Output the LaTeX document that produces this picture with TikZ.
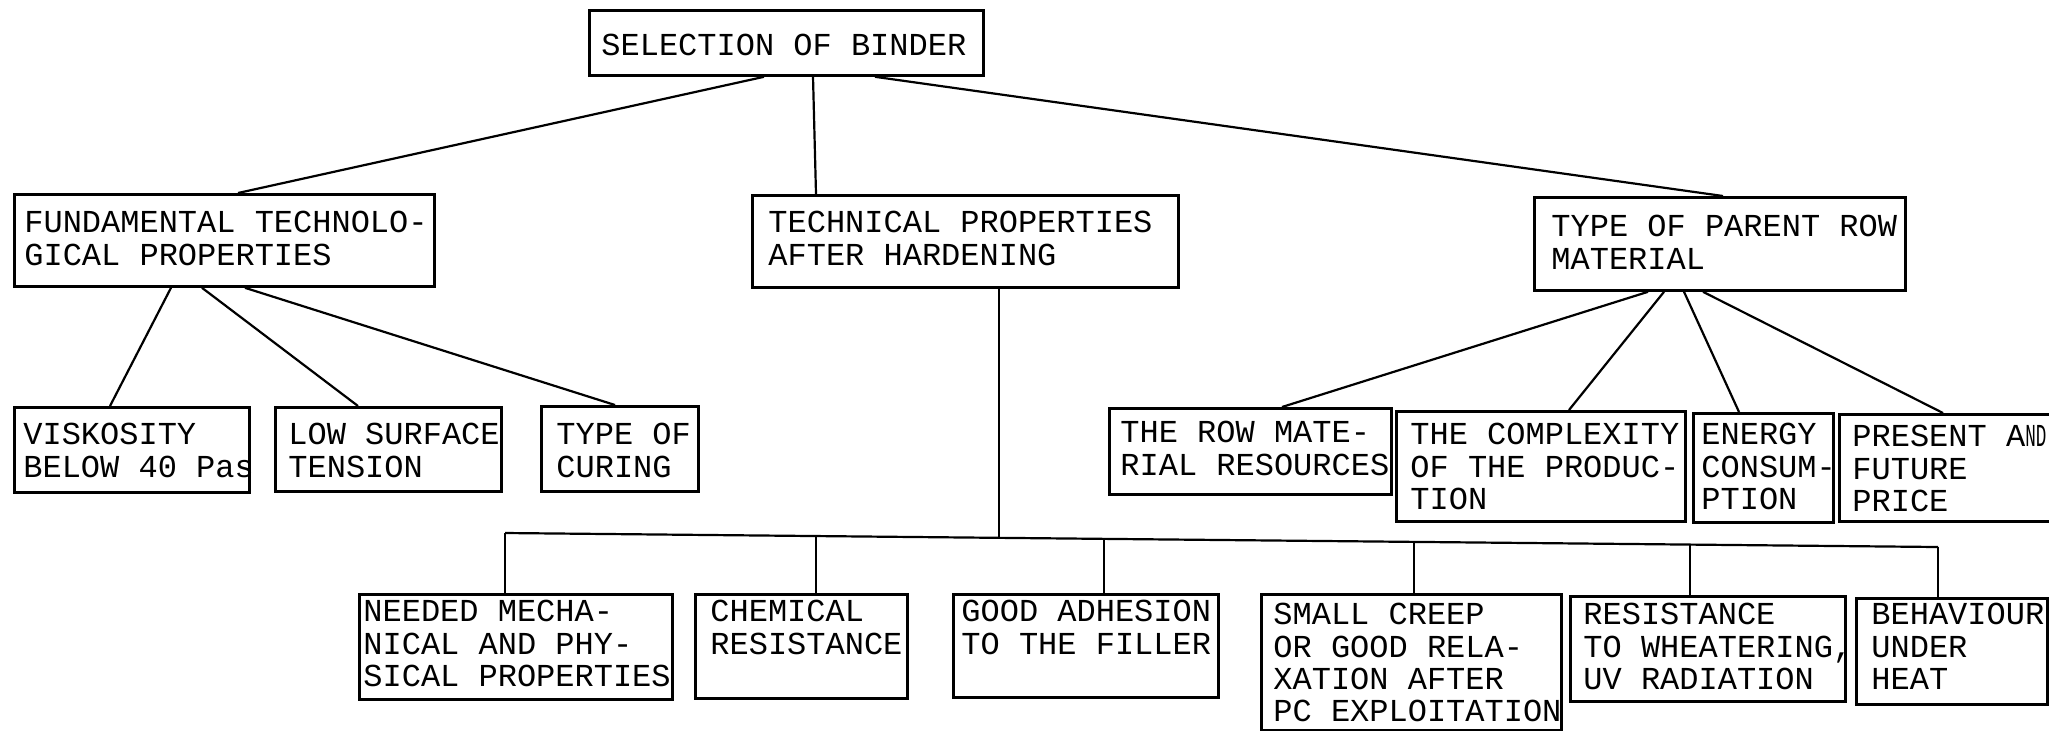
\documentclass[tikz,border=0pt]{standalone}
\usepackage{fontspec}
\setmonofont{Liberation Mono}
\usetikzlibrary{calc}
\newdimen\px \px=0.5pt
% #1 width px, #2 height px, #3 left pad px, #4 top pad px (cap top), #5 lines
\newcommand\bt[5]{\parbox[c][#2\px][t]{#1\px}{\vspace*{\dimexpr#4\px-2.2pt\relax}\hspace*{#3\px}\begin{tabular}[t]{@{}l@{}}#5\end{tabular}}}
\tikzset{
  bx/.style={draw, line width=1.4pt, inner sep=0pt, anchor=north west,
    font=\fontsize{16}{16.2}\selectfont\ttfamily},
  ln/.style={line width=1.1pt}
}
\begin{document}
\begin{tikzpicture}[x=0.5pt,y=-0.5pt]
\useasboundingbox (0,0) rectangle (2049,730);
\fill[white] (0,0) rectangle (2049,730);
\clip (0,0) rectangle (2049,730);

% top
\node[bx] (sel) at (588,9) {\bt{394}{65}{12}{27}{SELECTION OF BINDER}};

% second level
\node[bx] (fund) at (13,193) {\bt{420}{92}{10}{20}{FUNDAMENTAL TECHNOLO-\\GICAL PROPERTIES}};
\node[bx] (tech) at (751,194) {\bt{426}{92}{16}{19}{TECHNICAL PROPERTIES\\AFTER HARDENING}};
\node[bx] (type) at (1533,196) {\bt{371}{93}{17}{21}{TYPE OF PARENT ROW\\MATERIAL}};

% children of fund
\node[bx] (visk) at (13,406) {\bt{235}{85}{9}{19}{VISKOSITY\\BELOW 40 Pas}};
\node[bx] (low) at (274,406) {\bt{226}{84}{13}{19}{LOW SURFACE\\TENSION}};
\node[bx] (cur) at (540,405) {\bt{157}{85}{15}{20}{TYPE OF\\CURING}};

% children of type
\node[bx] (row) at (1108,407) {\bt{282}{86}{11}{16}{THE ROW MATE-\\RIAL RESOURCES}};
\node[bx] (compl) at (1395,410) {\bt{289}{110}{14}{15}{THE COMPLEXITY\\OF THE PRODUC-\\TION}};
\node[bx] (energy) at (1692,412) {\bt{140}{109}{8}{13}{ENERGY\\CONSUM-\\PTION}};
\node[bx] (present) at (1838,413) {\bt{240}{107}{13}{14}{PRESENT A\scalebox{0.55}[1]{ND}\\FUTURE\\PRICE}};

% children of tech
\node[bx] (need) at (358,593) {\bt{313}{105}{4}{9}{NEEDED MECHA-\\NICAL AND PHY-\\SICAL PROPERTIES}};
\node[bx] (chem) at (694,593) {\bt{212}{104}{15}{9}{CHEMICAL\\RESISTANCE}};
\node[bx] (adh) at (952,593) {\bt{265}{103}{8}{9}{GOOD ADHESION\\TO THE FILLER}};
\node[bx] (creep) at (1260,593) {\bt{300}{136}{12}{12}{SMALL CREEP\\OR GOOD RELA-\\XATION AFTER\\PC EXPLOITATION}};
\node[bx] (resist) at (1569,595) {\bt{275}{105}{13}{10}{RESISTANCE\\TO WHEATERING,\\UV RADIATION}};
\node[bx] (behav) at (1855,597) {\bt{191}{106}{15}{8}{BEHAVIOUR\\UNDER\\HEAT}};

% connectors from top
\draw[ln] ($(sel.south west)+(176,0)$) -- ($(fund.north west)+(225,0)$);
\draw[ln] ($(sel.south west)+(225,0)$) -- ($(tech.north west)+(65,0)$);
\draw[ln] ($(sel.south west)+(287,0)$) -- ($(type.north west)+(190,0)$);

% connectors from fund
\draw[ln] ($(fund.south west)+(158,0)$) -- ($(visk.north west)+(97,0)$);
\draw[ln] ($(fund.south west)+(189,0)$) -- ($(low.north west)+(84,0)$);
\draw[ln] ($(fund.south west)+(232,0)$) -- ($(cur.north west)+(75,0)$);

% connectors from type
\draw[ln] ($(type.south west)+(115,0)$) -- ($(row.north west)+(174,0)$);
\draw[ln] ($(type.south west)+(131,0)$) -- ($(compl.north west)+(174,0)$);
\draw[ln] ($(type.south west)+(151,0)$) -- ($(energy.north west)+(47,0)$);
\draw[ln] ($(type.south west)+(170,0)$) -- ($(present.north west)+(105,0)$);

% bus from tech
\coordinate (b1) at (505,533);
\coordinate (b2) at (816,536);
\coordinate (bt) at (999,537.8);
\coordinate (b3) at (1104,538.8);
\coordinate (b4) at (1414,541.9);
\coordinate (b5) at (1690,544.6);
\coordinate (b6) at (1938,547);
\draw[ln] (bt |- tech.south) -- (bt);
\draw[ln] (b1) -- (b6);
\draw[ln] (b1) -- (b1 |- need.north);
\draw[ln] (b2) -- (b2 |- chem.north);
\draw[ln] (b3) -- (b3 |- adh.north);
\draw[ln] (b4) -- (b4 |- creep.north);
\draw[ln] (b5) -- (b5 |- resist.north);
\draw[ln] (b6) -- (b6 |- behav.north);
\end{tikzpicture}
\end{document}
